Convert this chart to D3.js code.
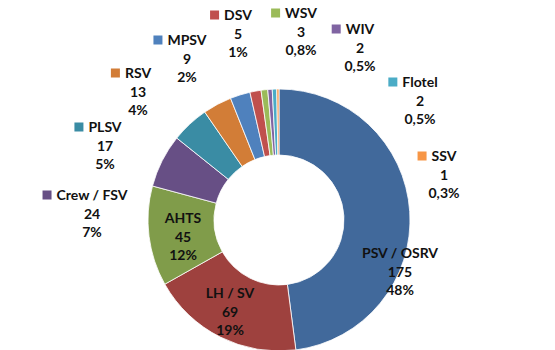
<!DOCTYPE html>
<html>
<head>
<meta charset="utf-8">
<script src="https://cdn.jsdelivr.net/npm/d3@7"></script>
<style>
    html, body { margin: 0; padding: 0; background: #fff; }
    #vis text { font-family: Lato, "Liberation Sans", sans-serif; font-weight: bold; font-size: 14px; fill: #111; }
</style>
</head>
<body>
<div id="vis"></div>
<script>
// data, clockwise from 12 o'clock
var categories = ['PSV / OSRV', 'LH / SV', 'AHTS', 'Crew / FSV', 'PLSV', 'RSV',
    'MPSV', 'DSV', 'WSV', 'WIV', 'Flotel', 'SSV'];
var counts = [175, 69, 45, 24, 17, 13, 9, 5, 3, 2, 2, 1];
var colors = ['#41699b', '#9e413e', '#809c4a', '#674f85', '#3a8ca4', '#d27d37',
    '#4f81bd', '#c0504d', '#9bbb59', '#8064a2', '#4bacc6', '#f79646'];

// label anchor (centre of the first line) and whether it carries a legend key
var labelPos = [[400, 253], [230, 293], [183, 218], [92, 195], [105, 127], [138, 73],
    [187, 40], [238, 15], [301, 13], [360, 29], [420, 82], [444, 156]];
var labelInside = [true, true, true, false, false, false, false, false, false, false, false, false];

var width = 555, height = 350;
var cx = 279, cy = 220, outerR = 131, innerR = 65;
var lineH = 18.7;

var svg = d3.select('#vis')
    .append('svg')
        .attr('width', width)
        .attr('height', height);

var total = d3.sum(counts);
var data = categories.map(function(c, i) {
    return {name: c, value: counts[i], color: colors[i], pos: labelPos[i], inside: labelInside[i]};
});

var pie = d3.pie()
    .sort(null)
    .value(function(d) { return d.value; });

var arc = d3.arc()
    .innerRadius(innerR)
    .outerRadius(outerR);

var g = svg.append('g')
    .attr('transform', 'translate(' + cx + ',' + cy + ')');

g.selectAll('path')
    .data(pie(data))
    .enter()
    .append('path')
        .attr('d', arc)
        .attr('fill', function(d) { return d.data.color; })
        .attr('stroke', '#fff')
        .attr('stroke-width', 0.8);

function pctText(v)
{
    var p = v / total * 100;
    if(p < 1) return d3.format('.1f')(p).replace('.', ',') + '%';
    return Math.round(p) + '%';
}

var labels = svg.selectAll('.lbl')
    .data(data)
    .enter()
    .append('g')
        .attr('class', 'lbl')
        .attr('transform', function(d) { return 'translate(' + d.pos[0] + ',' + d.pos[1] + ')'; });

labels.each(function(d) {
    var sel = d3.select(this);
    var lines = [d.name, String(d.value), pctText(d.value)];
    lines.forEach(function(t, i) {
        sel.append('text')
            .attr('x', 0)
            .attr('y', i * lineH)
            .attr('dy', '0.36em')
            .attr('text-anchor', 'middle')
            .text(t);
    });
    if(!d.inside)
    {
        var w = sel.select('text').node().getComputedTextLength();
        sel.append('rect')
            .attr('x', -w / 2 - 14)
            .attr('y', -4.5)
            .attr('width', 9)
            .attr('height', 9)
            .attr('fill', d.color);
    }
});
</script>
</body>
</html>
